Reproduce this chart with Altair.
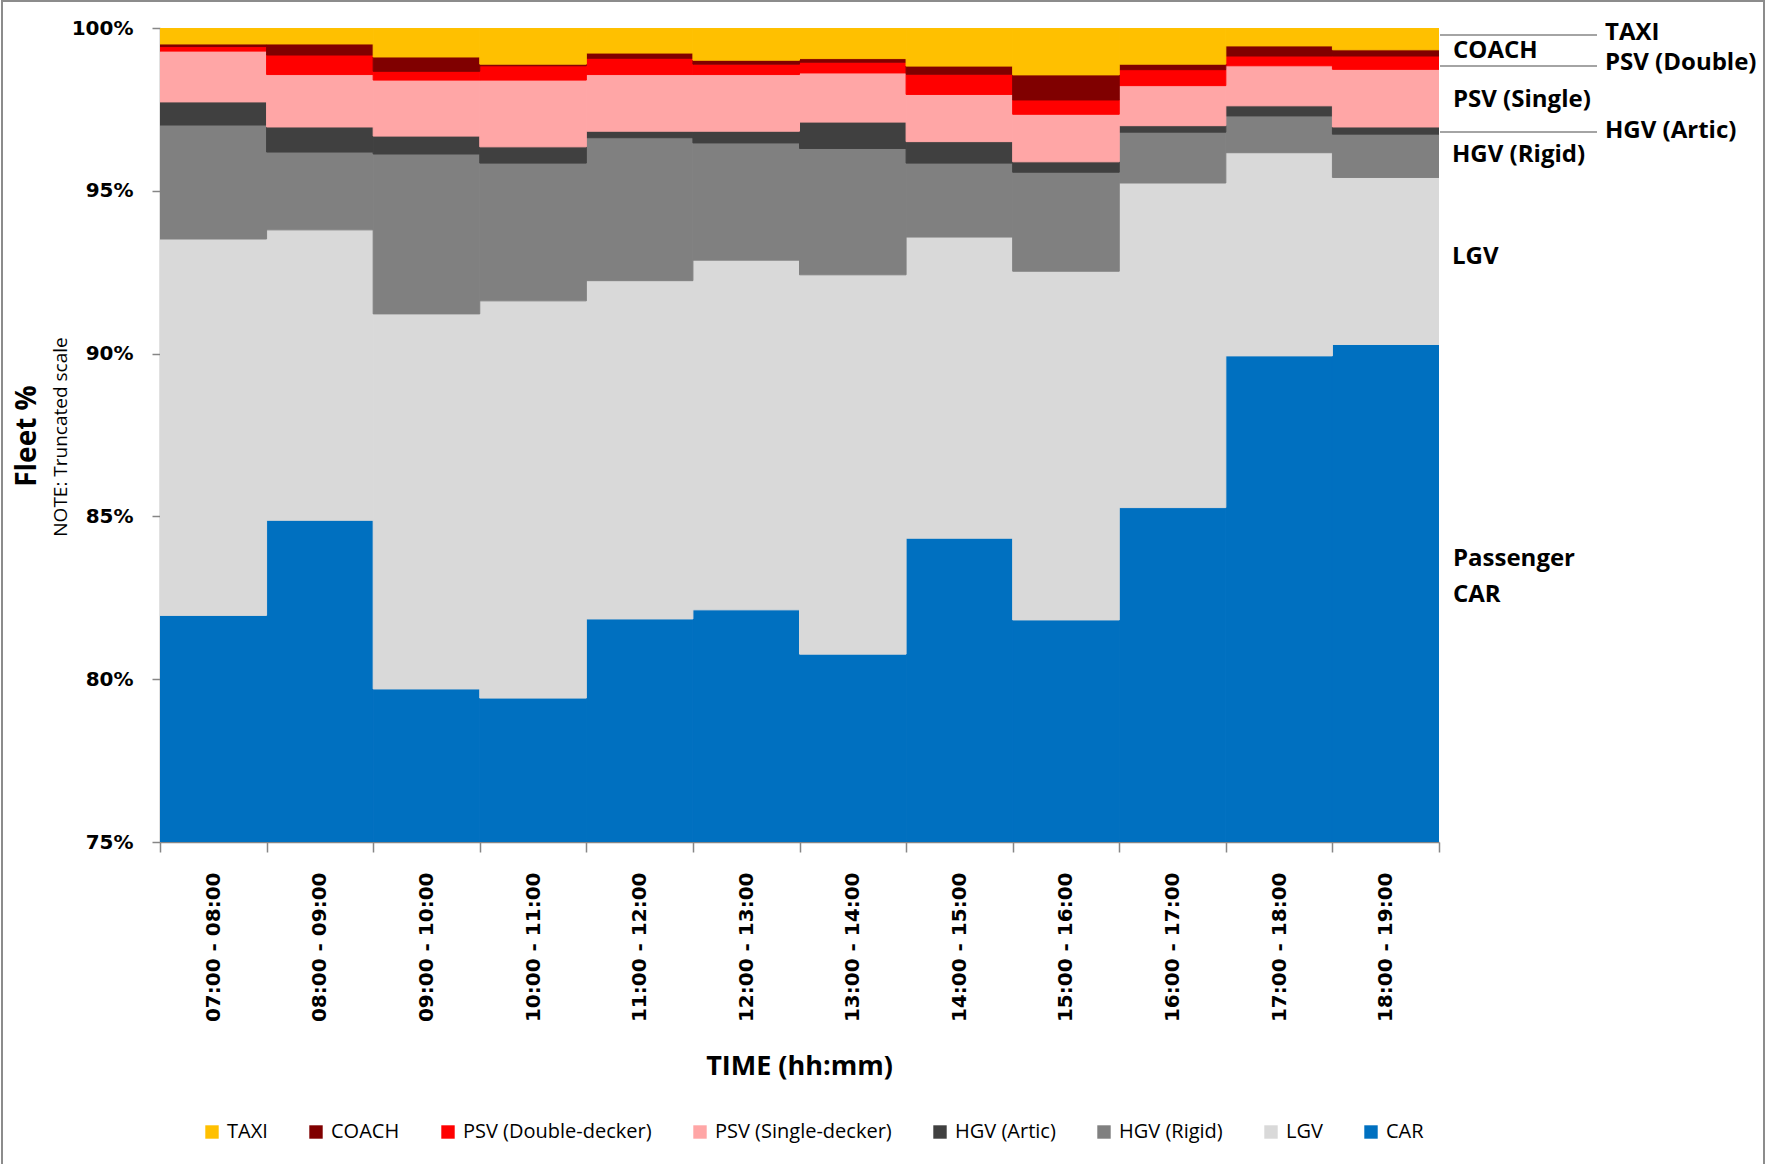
import altair as alt
import pandas as pd

# Hourly time bands
times = [
    "07:00 - 08:00", "08:00 - 09:00", "09:00 - 10:00", "10:00 - 11:00",
    "11:00 - 12:00", "12:00 - 13:00", "13:00 - 14:00", "14:00 - 15:00",
    "15:00 - 16:00", "16:00 - 17:00", "17:00 - 18:00", "18:00 - 19:00",
]

# Fleet composition (% of vehicles) per time band
car = [81.96, 84.88, 79.70, 79.42, 81.85, 82.13, 80.77, 84.33, 81.82, 85.27, 89.93, 90.28]
lgv = [11.56, 8.92, 11.52, 12.20, 10.39, 10.74, 11.65, 9.25, 10.71, 9.97, 6.24, 5.13]
hgv_rigid = [3.50, 2.39, 4.91, 4.23, 4.39, 3.60, 3.88, 2.27, 3.04, 1.56, 1.13, 1.33]
hgv_artic = [0.71, 0.77, 0.55, 0.50, 0.20, 0.36, 0.81, 0.66, 0.32, 0.20, 0.31, 0.22]
psv_single = [1.56, 1.61, 1.72, 2.05, 1.74, 1.74, 1.51, 1.45, 1.46, 1.23, 1.23, 1.77]
psv_double = [0.14, 0.60, 0.27, 0.44, 0.50, 0.32, 0.33, 0.62, 0.44, 0.49, 0.30, 0.41]
coach = [0.08, 0.34, 0.44, 0.05, 0.16, 0.12, 0.11, 0.25, 0.77, 0.17, 0.31, 0.19]
taxi = [0.49, 0.49, 0.89, 1.11, 0.77, 0.99, 0.94, 1.17, 1.44, 1.11, 0.55, 0.67]

# Stacking order, bottom to top
stack_series = [
    ("CAR", car),
    ("LGV", lgv),
    ("HGV (Rigid)", hgv_rigid),
    ("HGV (Artic)", hgv_artic),
    ("PSV (Single-decker)", psv_single),
    ("PSV (Double-decker)", psv_double),
    ("COACH", coach),
    ("TAXI", taxi),
]

legend_order = ["TAXI", "COACH", "PSV (Double-decker)", "PSV (Single-decker)",
                "HGV (Artic)", "HGV (Rigid)", "LGV", "CAR"]
legend_colors = ["#FFC000", "#800000", "#FF0000", "#FFA6A6",
                 "#404040", "#808080", "#D9D9D9", "#0070C0"]

y_ticks = [75, 80, 85, 90, 95, 100]

rows = []
for rank, (name, values) in enumerate(stack_series):
    for t, v in zip(times, values):
        rows.append({"time": t, "type": name, "share": v, "rank": rank})
df = pd.DataFrame(rows)

W, H = 1279, 814
AXIS_GREY = "#868686"
LABEL_FONT = "Open Sans"
TICK_FONT = "DejaVu Sans"

vehicle_scale = alt.Scale(domain=legend_order, range=legend_colors)

bars = alt.Chart(df).mark_bar(clip=True, strokeWidth=1).encode(
    x=alt.X(
        "time:N", sort=times,
        scale=alt.Scale(paddingInner=0, paddingOuter=0),
        axis=alt.Axis(
            title=None, labelAngle=270, labelFont=TICK_FONT, labelFontWeight="bold",
            labelFontSize=20, labelColor="#000000", labelPadding=20,
            tickBand="extent", tickSize=10, tickColor=AXIS_GREY, tickWidth=1.5,
            domainColor=AXIS_GREY, domainWidth=1.5,
        ),
    ),
    y=alt.Y(
        "share:Q", stack="zero",
        scale=alt.Scale(domain=[75, 100], nice=False),
        axis=alt.Axis(
            title=None, values=y_ticks, labelExpr="datum.value + '%'",
            labelFont=TICK_FONT, labelFontWeight="bold", labelFontSize=20,
            labelColor="#000000", labelPadding=19, grid=False,
            tickSize=8, tickColor=AXIS_GREY, tickWidth=1.5,
            domainColor=AXIS_GREY, domainWidth=1.5,
        ),
    ),
    color=alt.Color(
        "type:N",
        scale=vehicle_scale,
        legend=alt.Legend(
            title=None, orient="none", legendX=42, legendY=1094,
            direction="horizontal", columns=8, columnPadding=38,
            symbolType="square", symbolSize=180, symbolStrokeWidth=0,
            labelFont=LABEL_FONT, labelFontSize=20, labelColor="#000000",
            labelOffset=5, labelLimit=0, padding=0,
        ),
    ),
    stroke=alt.Stroke("type:N", scale=vehicle_scale, legend=None),
    order=alt.Order("rank:Q", sort="ascending"),
)

blank = alt.Data(values=[{}])


def label(text, x, y, size=24, weight="bold", angle=0, align="left"):
    return alt.Chart(blank).mark_text(
        text=text, font=LABEL_FONT, fontSize=size, fontWeight=weight,
        color="#000000", align=align, baseline="middle", angle=angle,
    ).encode(x=alt.value(x), y=alt.value(y))


def leader(y):
    return alt.Chart(blank).mark_rule(color=AXIS_GREY, strokeWidth=1.5).encode(
        x=alt.value(1280), x2=alt.value(1437), y=alt.value(y)
    )


# Series labels on the right-hand side
series_labels = [
    label("TAXI", 1445, 5),
    label("COACH", 1293, 23),
    label("PSV (Double)", 1445, 35),
    label("PSV (Single)", 1293, 72),
    label("HGV (Artic)", 1445, 103),
    label("HGV (Rigid)", 1292, 127),
    label("LGV", 1292, 229),
    label("Passenger", 1293, 531),
    label("CAR", 1293, 567),
]
leaders = [leader(7), leader(38), leader(104)]

titles = [
    label("Fleet %", -132, 408, size=28, angle=270, align="center"),
    label("NOTE: Truncated scale", -99, 409, size=19, weight="normal", angle=270, align="center"),
    label("TIME (hh:mm)", W / 2, 1039, size=27, align="center"),
]

frame = alt.Chart(blank).mark_rect(fill="transparent", stroke="#8C8C8C", strokeWidth=2).encode(
    x=alt.value(-158), x2=alt.value(1604), y=alt.value(-27), y2=alt.value(1150)
)

chart = alt.layer(
    frame, bars, *leaders, *series_labels, *titles
).properties(
    width=W, height=H,
    padding={"left": 160, "top": 28, "right": 337, "bottom": 322},
    autosize=alt.AutoSizeParams(type="none"),
    background="#FFFFFF",
).configure_view(stroke="transparent")

chart.save("out.html", embed_options={"renderer": "svg", "actions": False})
